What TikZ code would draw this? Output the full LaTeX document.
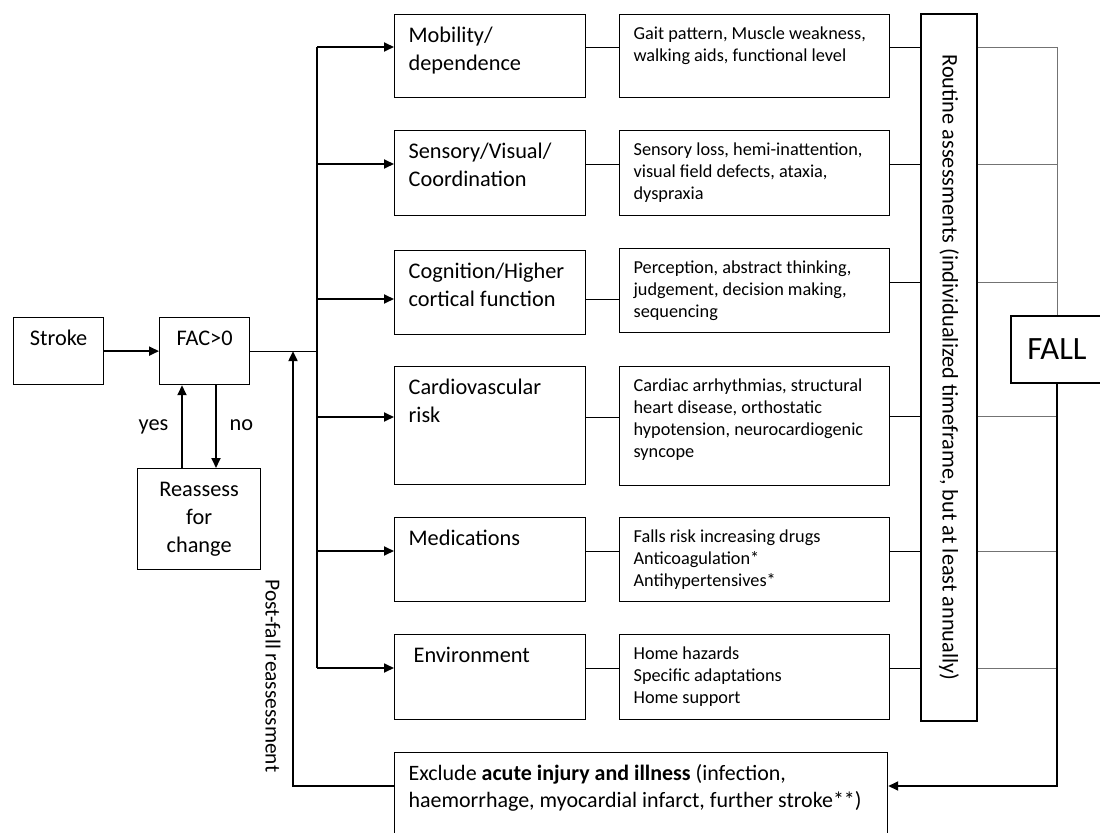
\documentclass[tikz,border=0pt]{standalone}
\usepackage{fontspec}
\setmainfont{Carlito}
\usetikzlibrary{arrows.meta}

\begin{document}
\begin{tikzpicture}[line width=0.7pt,>={Triangle[length=2mm,width=1.8mm]},
  box/.style={draw,anchor=north west,inner xsep=0.28cm,inner ysep=0pt,align=flush left,
    font=\fontsize{12.7}{15.9}\selectfont,text height=0.56cm},
  mainbox/.style={box,text width=3.26cm},
  detbox/.style={box,text width=4.84cm,font=\fontsize{10.4}{12.5}\selectfont,text height=0.5cm},
  arr/.style={->,line width=1pt},
  link/.style={line width=0.5pt},
  rlink/.style={line width=0.5pt,black!55},
  fallpath/.style={->,line width=1.1pt}]
  \useasboundingbox (0,0) rectangle (22,-16.66);

  % start
  \node[box,align=center,text width=1.24cm,text depth=0.78cm] (stroke) at (0.26,-6.34) {Stroke};
  \node[box,align=center,text width=1.24cm,text depth=0.78cm] (fac) at (3.18,-6.34) {FAC>0};
  \node[box,align=center,text width=1.90cm,text depth=1.46cm] (reas) at (2.74,-9.36) {Reassess\\for\\change};
  \draw[arr] (stroke) -- (fac);
  \draw[arr] (3.64,0 |- reas.north) -- (3.64,0 |- fac.south);
  \draw[arr] (4.32,0 |- fac.south) -- (4.32,0 |- reas.north);
  \node[anchor=base east,inner sep=0pt,font=\fontsize{12.7}{15.9}\selectfont] (yes) at (3.38,-8.60) {yes};
  \node[anchor=base west,inner sep=0pt,font=\fontsize{12.7}{15.9}\selectfont] (no) at (4.58,-8.60) {no};

  % risk areas
  \node[mainbox,text depth=1.10cm] (mob) at (7.88,-0.28) {Mobility/\\dependence};
  \node[mainbox,text depth=1.14cm] (sen) at (7.88,-2.60) {Sensory/Visual/\\Coordination};
  \node[mainbox,text depth=1.12cm] (cog) at (7.88,-5.00) {Cognition/Higher\\cortical function};
  \node[mainbox,text depth=1.80cm] (car) at (7.88,-7.32) {Cardiovascular\\risk};
  \node[mainbox,text depth=1.12cm] (med) at (7.88,-10.34) {Medications};
  \node[mainbox,text depth=1.14cm] (env) at (7.88,-12.68) {\hspace*{0.1cm}Environment};

  \node[detbox,text depth=1.16cm] (dmob) at (12.38,-0.28) {Gait pattern, Muscle weakness,\\walking aids, functional level};
  \node[detbox,text depth=1.20cm] (dsen) at (12.38,-2.60) {Sensory loss, hemi-inattention,\\visual field defects, ataxia,\\dyspraxia};
  \node[detbox,text depth=1.18cm] (dcog) at (12.38,-4.96) {Perception, abstract thinking,\\judgement, decision making,\\sequencing};
  \node[detbox,text depth=1.88cm] (dcar) at (12.38,-7.32) {Cardiac arrhythmias, structural\\heart disease, orthostatic\\hypotension, neurocardiogenic\\syncope};
  \node[detbox,text depth=1.18cm] (dmed) at (12.38,-10.34) {Falls risk increasing drugs\\Anticoagulation*\\Antihypertensives*};
  \node[detbox,text depth=1.20cm] (denv) at (12.38,-12.68) {Home hazards\\Specific adaptations\\Home support};

  \node[draw,minimum width=1.12cm,minimum height=14.14cm,inner sep=0pt,font=\fontsize{12.7}{15.9}\selectfont] (routine) at (18.98,-7.35)
    {\rotatebox{-90}{Routine assessments (individualized timeframe, but at least annually)}};
  \node[draw,minimum width=1.84cm,minimum height=1.34cm,inner sep=0pt,font=\fontsize{18.5}{22}\selectfont] (fall) at (21.14,-6.99) {FALL};

  \node[box,text width=9.30cm,text depth=1.64cm,font=\fontsize{12.5}{15.4}\selectfont] (excl) at (7.88,-15.04)
    {Exclude \textbf{acute injury and illness} (infection,\\haemorrhage, myocardial infarct, further stroke**)};
  \node[rotate=-90,inner sep=0pt,font=\fontsize{12.2}{15}\selectfont] (pflabel) at (5.46,-13.52) {Post-fall reassessment};

  % bus
  \draw (fac.east) -- (6.34,0 |- fac.east);
  \draw (6.34,-0.94) -- (6.34,-13.36);
  \foreach \n/\y in {mob/-0.94,sen/-3.28,cog/-5.98,car/-8.34,med/-11.02,env/-13.36}{
    \draw[arr] (6.34,\y) -- (\n.west |- 0,\y);
    \draw[link] (\n.east |- 0,\y) -- (d\n.west |- 0,\y);
  }
  \foreach \n/\y in {mob/-0.94,sen/-3.28,cog/-5.64,car/-8.32,med/-11.02,env/-13.36}{
    \draw[link] (d\n.east |- 0,\y) -- (routine.west |- 0,\y);
    \draw[rlink] (routine.east |- 0,\y) -- (fall.north |- 0,\y);
  }
  \draw[rlink] (fall.north |- 0,-0.94) -- (fall.north);

  % after a fall
  \draw[fallpath] (fall.south) |- (excl.east |- 0,-15.72);
  \draw[fallpath] (excl.west |- 0,-15.72) -| (5.86,0 |- fac.east);
\end{tikzpicture}
\end{document}
